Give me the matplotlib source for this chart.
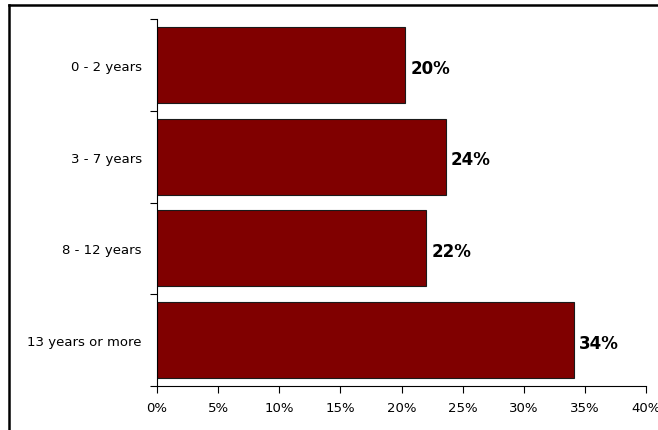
import matplotlib
matplotlib.use("Agg")
import matplotlib.pyplot as plt
from matplotlib.lines import Line2D
from matplotlib.ticker import FuncFormatter

categories = ["0 - 2 years", "3 - 7 years", "8 - 12 years", "13 years or more"]
values = [20.3, 23.6, 22.0, 34.1]
value_labels = ["20%", "24%", "22%", "34%"]
xticks = [0, 5, 10, 15, 20, 25, 30, 35, 40]

plt.rcParams['font.family'] = ['Verdana', 'DejaVu Sans']

fig = plt.figure(figsize=(6.58, 4.31), dpi=100)
ax = fig.add_axes([157/658, 1-387/431, (646-157)/658, (387-20)/431])

ypos = list(range(len(categories)))[::-1]
ax.barh(ypos, values, height=0.83, color="#800000", edgecolor="#1a1a1a", linewidth=0.8)

for y, v, lab in zip(ypos, values, value_labels):
    ax.text(v + 0.45, y - 0.03, lab, va="center", ha="left", fontsize=12, fontweight="bold")

ax.set_xlim(0, 40)
ax.set_ylim(-0.5, len(categories) - 0.5)
ax.set_xticks(xticks)
ax.xaxis.set_major_formatter(FuncFormatter(lambda x, p: "{0:.0f}%".format(x)))
ax.set_yticks([i - 0.5 for i in range(len(categories) + 1)])
ax.set_yticklabels([])
ax.set_yticks(ypos, minor=True)
ax.set_yticklabels(categories, minor=True)
ax.tick_params(axis="y", which="minor", length=0, pad=11, labelsize=9.5)
ax.tick_params(axis="y", which="major", length=5, width=0.8, direction="out")
ax.tick_params(axis="x", length=5, width=0.8, direction="out", labelsize=9.5, pad=6)

for s in ["top", "right"]:
    ax.spines[s].set_visible(False)
ax.spines["left"].set_linewidth(0.8)
ax.spines["bottom"].set_linewidth(0.8)

# outer frame, cut off at right and bottom
fig.add_artist(Line2D([9/658, 9/658], [0, 1-6/431], color="black", lw=1.8, transform=fig.transFigure))
fig.add_artist(Line2D([9/658, 1], [1-6/431, 1-6/431], color="black", lw=1.8, transform=fig.transFigure))

fig.savefig("out.png", dpi=100)
